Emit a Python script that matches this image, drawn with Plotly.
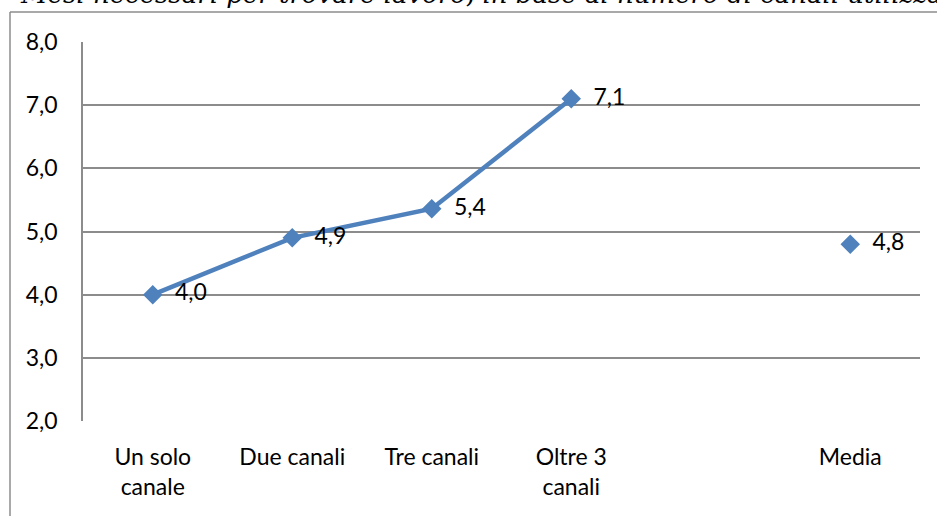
import plotly.graph_objects as go

categories = ["Un solo<br>canale", "Due canali", "Tre canali", "Oltre 3<br>canali", " ", "Media"]
values = [4.0, 4.9, 5.36, 7.1, None, 4.8]
title_text = "Mesi necessari per trovare lavoro, in base al numero di canali utilizzati"

FONT = "Lato, Carlito, Calibri, sans-serif"
GRID = "#8c8c8c"
FS = 23

fig = go.Figure()
fig.add_trace(go.Scatter(
    x=categories, y=values,
    mode="lines+markers+text",
    line=dict(color="#4F81BD", width=4.5),
    marker=dict(symbol="diamond", size=15, color="#4F81BD"),
    texttemplate="  %{y:.1f}",
    textposition="middle right",
    textfont=dict(family=FONT, size=FS, color="#000000"),
    connectgaps=False,
    cliponaxis=False,
    showlegend=False,
))

fig.update_layout(
    width=937, height=516,
    margin=dict(l=83, r=17, t=42, b=95),
    paper_bgcolor="white", plot_bgcolor="white",
    separators=",.",
    font=dict(family=FONT, size=FS, color="#000000"),
    xaxis=dict(
        type="category", categoryorder="array", categoryarray=categories,
        range=[-0.5, 5.5], showgrid=False, zeroline=False, showline=False,
        ticks="", ticklabelstandoff=20, automargin=False,
        tickfont=dict(family=FONT, size=FS),
    ),
    yaxis=dict(
        range=[2, 8], dtick=1, tickformat=".1f",
        showgrid=True, gridcolor=GRID, gridwidth=1.5,
        zeroline=False, showline=True, linecolor=GRID, linewidth=1.5,
        ticks="", ticklabelstandoff=19, automargin=False,
        tickfont=dict(family=FONT, size=FS),
    ),
    shapes=[
        dict(type="line", xref="paper", yref="paper",
             x0=-73/837, x1=-73/837, y0=(421-12)/379, y1=(421-520)/379,
             line=dict(color=GRID, width=1.5)),
        dict(type="line", xref="paper", yref="paper",
             x0=-73/837, x1=(940-83)/837, y0=(421-12)/379, y1=(421-12)/379,
             line=dict(color=GRID, width=1.5)),
    ],
    annotations=[
        dict(text="<i>" + title_text + "</i>", xref="paper", yref="paper",
             x=(18-83)/837, y=(421-11)/379, xanchor="left", yanchor="bottom",
             showarrow=False, align="left",
             font=dict(family="DejaVu Serif, Liberation Serif, serif", size=26, color="#000000")),
    ],
)

fig.write_html("out.html", config={"displayModeBar": False},
               post_script="document.body.style.margin='0';document.body.style.padding='0';")
